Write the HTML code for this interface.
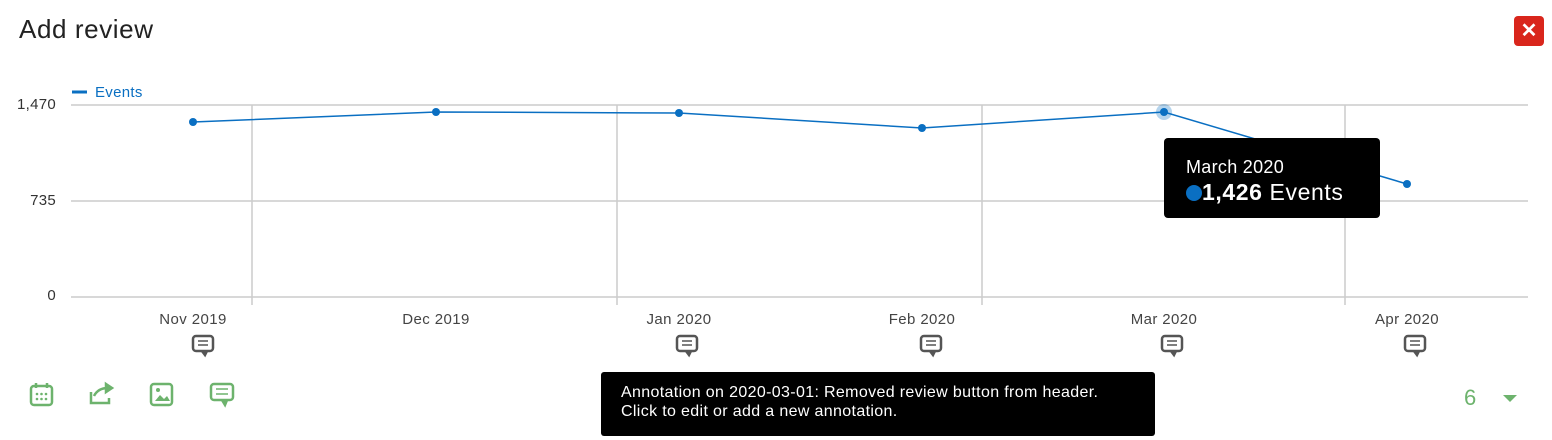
<!DOCTYPE html>
<html><head><meta charset="utf-8"><style>
body{margin:0;width:1552px;height:440px;background:#fff;font-family:"Liberation Sans",sans-serif;position:relative;overflow:hidden}
.a{position:absolute}
</style></head><body>
<div class="a" style="left:19px;top:14px;font-size:26px;letter-spacing:0.6px;color:#222">Add review</div>
<div class="a" style="left:1514px;top:16px;width:30px;height:30px;background:#d9261c;border-radius:4px;color:#fff;font-size:20px;font-weight:bold;text-align:center;line-height:30px">✕</div>
<svg class="a" style="left:0;top:0" width="1552" height="440">
<g stroke="#ccc" stroke-width="1.5">
<line x1="71" y1="105" x2="1528" y2="105"/><line x1="71" y1="201" x2="1528" y2="201"/><line x1="71" y1="297" x2="1528" y2="297"/>
<line x1="252" y1="105" x2="252" y2="305"/><line x1="617" y1="105" x2="617" y2="305"/><line x1="982" y1="105" x2="982" y2="305"/><line x1="1345" y1="105" x2="1345" y2="305"/>
</g>
<line x1="72" y1="92" x2="87" y2="92" stroke="#0a6fc2" stroke-width="3"/>
<text x="95" y="97" font-size="15" fill="#0a6fc2" letter-spacing="0.3">Events</text>
<g font-size="15" fill="#333" text-anchor="end" letter-spacing="0.3"><text x="56" y="109">1,470</text><text x="56" y="205">735</text><text x="56" y="300">0</text></g>
<g font-size="15" fill="#444" text-anchor="middle" letter-spacing="0.4"><text x="193" y="324">Nov 2019</text><text x="436" y="324">Dec 2019</text><text x="679" y="324">Jan 2020</text><text x="922" y="324">Feb 2020</text><text x="1164" y="324">Mar 2020</text><text x="1407" y="324">Apr 2020</text></g>
<circle cx="1164" cy="112" r="8" fill="#0a6fc2" opacity="0.3"/>
<polyline points="193,122 436,112 679,113 922,128 1164,112 1407,184" fill="none" stroke="#0a6fc2" stroke-width="1.5"/>
<g fill="#0a6fc2"><circle cx="193" cy="122" r="4"/><circle cx="436" cy="112" r="4"/><circle cx="679" cy="113" r="4"/><circle cx="922" cy="128" r="4"/><circle cx="1164" cy="112" r="4"/><circle cx="1407" cy="184" r="4"/></g>
<g fill="none" stroke="#555" stroke-width="2.5">
<g transform="translate(192,335)"><rect x="1" y="1" width="20" height="15" rx="3"/><path d="M6 6h10M6 10h10" stroke-width="1.5"/><path d="M10 16l3 4 2-4" fill="#555"/></g>
<g transform="translate(676,335)"><rect x="1" y="1" width="20" height="15" rx="3"/><path d="M6 6h10M6 10h10" stroke-width="1.5"/><path d="M10 16l3 4 2-4" fill="#555"/></g>
<g transform="translate(920,335)"><rect x="1" y="1" width="20" height="15" rx="3"/><path d="M6 6h10M6 10h10" stroke-width="1.5"/><path d="M10 16l3 4 2-4" fill="#555"/></g>
<g transform="translate(1161,335)"><rect x="1" y="1" width="20" height="15" rx="3"/><path d="M6 6h10M6 10h10" stroke-width="1.5"/><path d="M10 16l3 4 2-4" fill="#555"/></g>
<g transform="translate(1404,335)"><rect x="1" y="1" width="20" height="15" rx="3"/><path d="M6 6h10M6 10h10" stroke-width="1.5"/><path d="M10 16l3 4 2-4" fill="#555"/></g>
</g>
<g fill="none" stroke="#6db36d" stroke-width="2.5">
<rect x="31" y="386" width="21" height="19" rx="3"/><path d="M36 383v5M47 383v5" />
<g fill="#6db36d" stroke="none"><circle cx="37" cy="394" r="1.3"/><circle cx="41.5" cy="394" r="1.3"/><circle cx="46" cy="394" r="1.3"/><circle cx="37" cy="399" r="1.3"/><circle cx="41.5" cy="399" r="1.3"/><circle cx="46" cy="399" r="1.3"/></g>
<path d="M91 392v11h18v-5M94 396q4-8 14-8" /><path d="M106 384l6 4-6 4z" fill="#6db36d"/>
<rect x="151" y="384" width="21" height="21" rx="3"/><path d="M155 401l5-6 4 4 3-3 3 5z" fill="#6db36d" stroke="none"/><circle cx="158" cy="390" r="2" fill="#6db36d" stroke="none"/>
<rect x="211" y="384" width="22" height="16" rx="3"/><path d="M216 389h12M216 394h12" stroke-width="1.5"/><path d="M222 400l3 5 2-5" fill="#6db36d"/>
</g>
<text x="1464" y="405" font-size="22" fill="#6db36d">6</text>
<path d="M1503 395h14l-7 7z" fill="#6db36d"/>
</svg>
<div class="a" style="left:1164px;top:138px;width:216px;height:80px;background:#000;border-radius:4px;color:#fff">
<div class="a" style="left:22px;top:19px;font-size:18px;letter-spacing:0.3px">March 2020</div>
<div class="a" style="left:22px;top:41px;font-size:23px;letter-spacing:0.6px;white-space:nowrap"><span style="display:inline-block;width:16px;height:16px;border-radius:50%;background:#0a6fc2;vertical-align:-1px"></span><b>1,426</b> Events</div>
</div>
<div class="a" style="left:601px;top:372px;width:554px;height:64px;background:#000;border-radius:3px;color:#fff;font-size:16px;letter-spacing:0.35px;line-height:19px;box-sizing:border-box;padding:11px 20px;white-space:nowrap">Annotation on 2020-03-01: Removed review button from header.<br>Click to edit or add a new annotation.</div>
</body></html>
